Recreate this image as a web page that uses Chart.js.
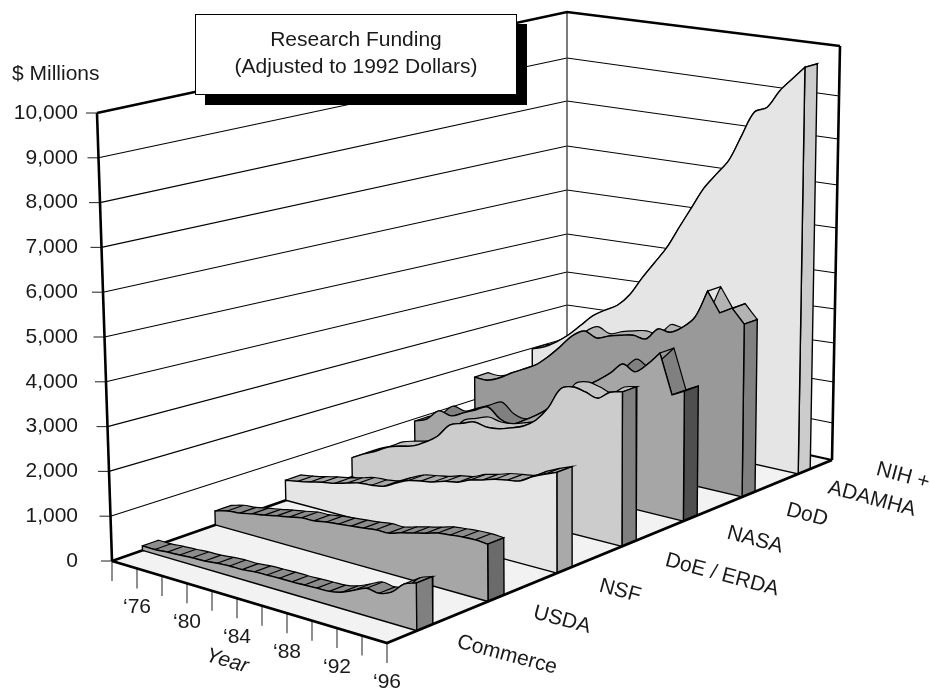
<!DOCTYPE html>
<html>
<head>
<meta charset="utf-8">
<style>
  html, body { margin: 0; padding: 0; background: #fff; }
  canvas { display: block; }
</style>
<script src="https://cdn.jsdelivr.net/npm/chart.js@4/dist/chart.umd.min.js"></script>
</head>
<body>
<canvas id="funding" width="930" height="690"></canvas>
<script>
const years = [1974, 1975, 1976, 1977, 1978, 1979, 1980, 1981, 1982, 1983, 1984, 1985, 1986, 1987, 1988, 1989, 1990, 1991, 1992, 1993, 1994, 1995, 1996];

// $ millions, 1992 dollars
const commerce = [100, 100, 125, 140, 160, 170, 200, 220, 220, 250, 260, 270, 270, 280, 290, 300, 360, 480, 600, 570, 670, 920, 1020];
const usda = [320, 400, 430, 490, 540, 600, 650, 710, 720, 770, 800, 830, 860, 900, 900, 980, 1050, 1120, 1200, 1230, 1260, 1270, 1250];
const nsf = [470, 520, 580, 650, 700, 780, 860, 880, 930, 1080, 1210, 1270, 1320, 1410, 1460, 1580, 1650, 1740, 1790, 1840, 2000, 2130, 2240];
const doe = [460, 630, 770, 940, 1030, 1110, 1270, 1480, 1810, 1920, 2020, 1970, 2000, 2090, 2200, 2400, 2750, 3250, 3360, 3310, 3230, 3430, 3500];
const nasa = [830, 950, 1220, 1170, 1310, 1450, 1590, 1370, 1320, 1480, 1670, 1900, 2160, 2410, 2620, 2820, 3050, 3320, 3200, 3440, 3760, 2850, 3000];
const dod = [1420, 1410, 1530, 1720, 1880, 2050, 2310, 2620, 2950, 3130, 3020, 3130, 3210, 3270, 3240, 3540, 3520, 3700, 4000, 4670, 4210, 4380, 4060];
const nih = [1650, 1770, 1960, 2200, 2500, 2800, 3000, 3180, 3500, 3970, 4400, 4830, 5380, 5920, 6450, 6840, 7230, 7870, 8480, 8630, 9070, 9400, 9720];

const valueTicks = [0, 1000, 2000, 3000, 4000, 5000, 6000, 7000, 8000, 9000, 10000];
const yearTicks = [1974, 1976, 1978, 1980, 1982, 1984, 1986, 1988, 1990, 1992, 1994, 1996];
const yearLabels = ['', '‘76', '', '‘80', '', '‘84', '', '‘88', '', '‘92', '', '‘96'];
const agencyLabels = ['Commerce', 'USDA', 'NSF', 'DoE / ERDA', 'NASA', 'DoD', 'NIH +', 'ADAMHA'];

// box corners in canvas units, floor then top
const box = {
  floor: { fl: [112, 561], fr: [387, 643], bl: [567, 402], br: [832, 460] },
  top: { fl: [97, 113], fr: [381, 171], bl: [567, 12], br: [840, 46] },
};
// where each gridline meets the back corner and the right edge
const backGridY = [402, 370, 338, 305, 272, 234, 190, 146, 101, 58, 12];
const rightGridY = [460, 423, 382, 343, 309, 273, 228, 185, 139, 96, 46];

const ribbons = [
  { values: commerce, front: 0.067, back: 0.103, face: '#a8a8a8', lid: '#8c8c8c', side: '#808080', stripes: true, kinks: [] },
  { values: usda, front: 0.227, back: 0.263, face: '#a6a6a6', lid: '#8c8c8c', side: '#6b6b6b', stripes: true, kinks: [] },
  { values: nsf, front: 0.382, back: 0.416, face: '#e5e5e5', lid: '#a8a8a8', side: '#a9a9a9', stripes: true, kinks: [] },
  { values: doe, front: 0.528, back: 0.56, face: '#cccccc', lid: '#c4c4c4', side: '#808080', stripes: false, kinks: [] },
  { values: nasa, front: 0.666, back: 0.697, face: '#a6a6a6', lid: '#808080', side: '#4f4f4f', stripes: false, kinks: [20, 21] },
  { values: dod, front: 0.798, back: 0.827, face: '#999999', lid: '#b3b3b3', side: '#808080', stripes: false, kinks: [19, 20, 21] },
  { values: nih, front: 0.924, back: 0.951, face: '#e5e5e5', lid: '#cccccc', side: '#cccccc', stripes: false, kinks: [] },
];

const FONT = '"Liberation Sans", Arial, sans-serif';
const INK = '#1a1a1a';

const lerp = (a, b, k) => a + (b - a) * k;

function corner(plane, t, d) {
  const p = box[plane];
  return [0, 1].map((i) => lerp(lerp(p.fl[i], p.fr[i], t), lerp(p.bl[i], p.br[i], t), d));
}

// year, depth (0 front .. 1 back), value -> chart coordinates
function project(year, depth, value) {
  const t = (year - years[0]) / (years[years.length - 1] - years[0]);
  const low = corner('floor', t, depth);
  const high = corner('top', t, depth);
  const v = value / 10000;
  return { x: lerp(low[0], high[0], v), y: lerp(low[1], high[1], v) };
}

function shape(points, face, opts = {}) {
  return {
    data: points,
    fill: face ? 'shape' : false,
    backgroundColor: face || 'transparent',
    borderColor: opts.color || '#000',
    borderWidth: opts.width === undefined ? 1.4 : opts.width,
    tension: opts.tension || 0,
    pointRadius: 0,
    borderJoinStyle: 'miter',
    borderCapStyle: 'butt',
    clip: false,
  };
}

const seg = (a, b, color, width) => shape([{ x: a[0], y: a[1] }, { x: b[0], y: b[1] }], null, { color, width });
// a repeated point keeps the curve from rounding that corner
const sharp = (p) => [p, p];

function ribbonShapes(r) {
  const last = years.length - 1;
  const frontEdge = years.map((y, i) => project(y, r.front, r.values[i]));
  const backEdge = years.map((y, i) => project(y, r.back, r.values[i]));
  const withKinks = (edge) => edge.flatMap((p, i) => (i === 0 || i === last || r.kinks.includes(i) ? sharp(p) : [p]));
  const out = [];

  const lid = [...withKinks(frontEdge), ...withKinks(backEdge).reverse(), frontEdge[0]];
  out.push(shape(lid, r.lid, { tension: 0.35, width: 1.2 }));

  const crossLines = years.map((y, i) => i).filter((i) => (r.stripes && i > 0 && i < last) || r.kinks.includes(i));
  crossLines.forEach((i) => out.push(shape([frontEdge[i], backEdge[i]], null, { width: 1.2 })));

  const sideFront = project(years[last], r.front, 0);
  const sideBack = project(years[last], r.back, 0);
  out.push(shape([sideFront, frontEdge[last], backEdge[last], sideBack, sideFront], r.side));

  const baseLeft = project(years[0], r.front, 0);
  const face = [...sharp(baseLeft), ...withKinks(frontEdge), ...sharp(sideFront), baseLeft];
  out.push(shape(face, r.face, { tension: 0.35 }));
  return out;
}

const f = box.floor;
const t = box.top;
const painted = [];

// floor
painted.push(shape([f.fl, f.fr, f.br, f.bl, f.fl].map((p) => ({ x: p[0], y: p[1] })), '#f2f2f2', { width: 0 }));

// gridlines over both walls, with the outer tick on the value axis
valueTicks.forEach((value, i) => {
  const left = project(years[0], 0, value);
  const wall = [left, { x: f.bl[0], y: backGridY[i] }, { x: lerp(f.br[0], t.br[0], value / 10000), y: rightGridY[i] }];
  if (value > 0 && value < 10000) painted.push(shape(wall, null, { width: 1.1 }));
  painted.push(seg([left.x - 11, left.y], [left.x, left.y], '#333', 1.1));
});

// year ticks under the floor
yearTicks.forEach((year) => {
  const p = project(year, 0, 0);
  painted.push(seg([p.x, p.y], [p.x, p.y + 20], '#333', 1.1));
});

// frame
painted.push(seg(t.bl, f.bl, '#444', 1.4));
painted.push(seg(f.fl, f.bl, '#000', 2.4));
painted.push(seg(f.bl, f.br, '#000', 2));
painted.push(shape([t.fl, t.bl, t.br].map((p) => ({ x: p[0], y: p[1] })), null, { width: 2.6 }));
painted.push(seg(t.fl, f.fl, '#000', 2.6));
painted.push(seg(t.br, f.br, '#000', 2.6));

[...ribbons].reverse().forEach((r) => painted.push(...ribbonShapes(r)));

painted.push(shape([f.fl, f.fr, f.br].map((p) => ({ x: p[0], y: p[1] })), null, { width: 2.8 }));

function rotatedText(ctx, text, x, y, angle, font) {
  ctx.save();
  ctx.translate(x, y);
  ctx.rotate(angle * Math.PI / 180);
  ctx.font = font;
  ctx.fillText(text, 0, 0);
  ctx.restore();
}

const annotations = {
  id: 'annotations',
  afterDatasetsDraw(chart) {
    const { ctx } = chart;
    const font = `21px ${FONT}`;
    ctx.save();
    ctx.fillStyle = '#000';
    ctx.fillRect(205, 24, 322, 81);
    ctx.fillStyle = '#fff';
    ctx.strokeStyle = '#000';
    ctx.lineWidth = 1;
    ctx.fillRect(195.5, 14.5, 321, 80);
    ctx.strokeRect(195.5, 14.5, 321, 80);

    ctx.fillStyle = INK;
    ctx.textBaseline = 'middle';
    ctx.textAlign = 'center';
    ctx.font = font;
    ctx.fillText('Research Funding', 356, 40);
    ctx.fillText('(Adjusted to 1992 Dollars)', 356, 67);

    ctx.textAlign = 'left';
    ctx.fillText('$ Millions', 12, 74);

    ctx.textAlign = 'right';
    valueTicks.forEach((value) => {
      const p = project(years[0], 0, value);
      ctx.fillText(value.toLocaleString('en-US'), 78, p.y);
    });

    ctx.textAlign = 'center';
    yearTicks.forEach((year, i) => {
      if (!yearLabels[i]) return;
      const p = project(year, 0, 0);
      ctx.fillText(yearLabels[i], p.x, p.y + 39);
    });
    rotatedText(ctx, 'Year', 227, 661, 16, `italic 21px ${FONT}`);

    const spots = [[507, 655], [562, 620], [620, 591], [722, 575], [755, 540], [807, 515], [903, 476], [872, 499]];
    agencyLabels.forEach((label, i) => {
      rotatedText(ctx, label, spots[i][0], spots[i][1], 15, font);
    });
    ctx.restore();
  },
};

new Chart(document.getElementById('funding'), {
  type: 'line',
  data: { datasets: painted.reverse() },
  options: {
    responsive: false,
    animation: false,
    events: [],
    layout: { padding: 0 },
    plugins: { legend: { display: false }, tooltip: { enabled: false } },
    scales: {
      x: { type: 'linear', min: 0, max: 930, display: false },
      y: { type: 'linear', min: 0, max: 690, reverse: true, display: false },
    },
  },
  plugins: [annotations],
});
</script>
</body>
</html>
